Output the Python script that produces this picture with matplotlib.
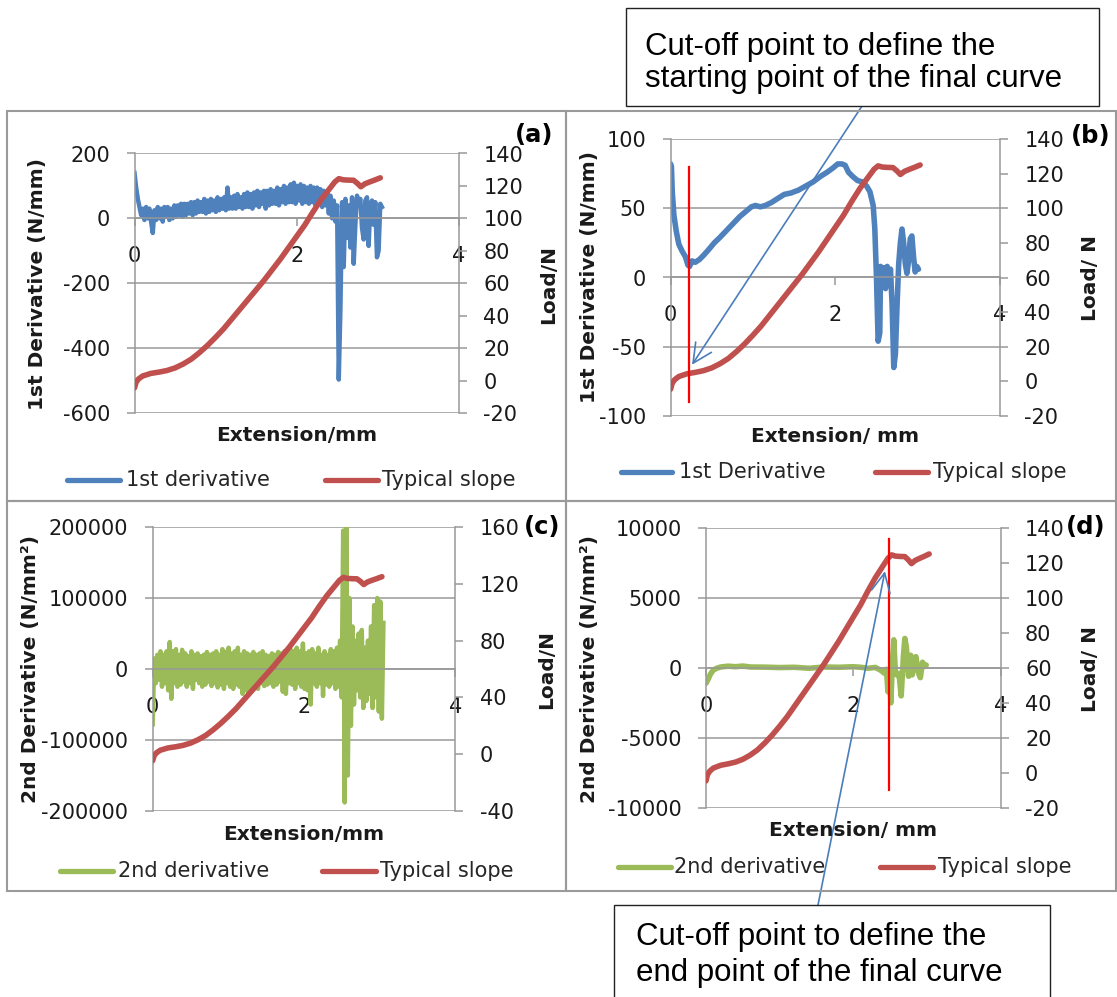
import numpy as np
import matplotlib
matplotlib.use("Agg")
import matplotlib.pyplot as plt
from matplotlib.lines import Line2D
from matplotlib.patches import Rectangle
from matplotlib.ticker import FuncFormatter

W, H = 1117, 997
plt.rcParams["font.family"] = ["DejaVu Sans"]
plt.rcParams["axes.unicode_minus"] = False

BLUE = "#4F81BD"
RED = "#C0504D"
GREEN = "#9BBB59"
GRID = "#989898"
ARROW = "#4A7EBB"
TXT = "#1a1a1a"

# ---------------- data ----------------
# typical load-extension curve (same specimen in every panel)
load_ext = [0.00, 0.02, 0.05, 0.10, 0.20, 0.30, 0.40, 0.50, 0.60, 0.70, 0.80, 0.90,
            1.00, 1.10, 1.20, 1.30, 1.40, 1.50, 1.60, 1.70, 1.80, 1.90, 2.00, 2.10,
            2.20, 2.30, 2.40, 2.47, 2.52, 2.57, 2.63, 2.70, 2.75, 2.79, 2.84, 2.90,
            2.96, 3.03]
load_n = [-4.5, -1.0, 1.0, 2.8, 4.4, 5.2, 6.2, 7.8, 10.2, 13.2, 17.2, 21.7,
          26.7, 32.0, 38.0, 44.0, 50.0, 56.0, 62.0, 68.5, 75.0, 82.0, 89.0, 96.0,
          104.0, 111.5, 118.0, 122.5, 124.5, 123.8, 123.6, 123.5, 121.5, 119.5, 121.3, 122.5,
          123.6, 125.0]

# (a) 1st derivative, sampled evenly over 0 - 3.05 mm
d1a_span = (0.0, 3.05)
d1a_vals = [140, 95, 60, 35, 10, 30, -5, 35, 0, 30,
            -10, -45, 25, -5, 35, 0, 30, -10, 35, 5,
            35, -5, 30, 0, 40, 5, 40, 10, 45, 5,
            45, 10, 45, 15, 50, 10, 50, 15, 55, 20,
            50, 20, 60, 15, 55, 20, 60, 25, 55, 20,
            65, 25, 60, 30, 65, 25, 95, 30, 65, 30,
            70, 30, 75, 35, 65, 30, 75, 35, 80, 35,
            75, 30, 80, 40, 85, 35, 80, 45, 85, 30,
            85, 40, 90, 45, 85, 45, 95, 40, 90, 50,
            100, 45, 95, 50, 105, 50, 110, 45, 100, 55,
            105, 45, 100, 50, 95, 45, 100, 50, 95, 40,
            95, 45, 90, 35, 85, 40, 80, 15, 70, 0,
            55, -10, 40, -497, -280, 50, -150, 60, -60, 40,
            -90, 65, -140, -20, 70, 45, 60, -30, -65, 55,
            65, -85, 40, 55, -20, 50, -120, -100, 45, 35]

# (b) 1st derivative of the smoothed curve
d1b_ext = [0.00, 0.01, 0.02, 0.04, 0.07, 0.10, 0.14, 0.18, 0.21, 0.23,
           0.26, 0.30, 0.35, 0.40, 0.46, 0.53, 0.60, 0.68, 0.76, 0.84,
           0.92, 0.98, 1.03, 1.09, 1.15, 1.22, 1.30, 1.38, 1.46, 1.55,
           1.64, 1.73, 1.82, 1.90, 1.97, 2.03, 2.08, 2.12, 2.16, 2.21,
           2.27, 2.33, 2.38, 2.42, 2.46, 2.48, 2.50, 2.52, 2.54, 2.55,
           2.57, 2.59, 2.61, 2.63, 2.65, 2.67, 2.69, 2.71, 2.73, 2.75,
           2.77, 2.79, 2.81, 2.83, 2.85, 2.87, 2.89, 2.91, 2.93, 2.95,
           2.97, 2.99, 3.01]
d1b_val = [82, 80, 62, 45, 33, 24, 19, 15, 9, 8,
           12, 11, 13, 16, 20, 25, 29, 34, 39, 44,
           48, 51, 52, 51, 52, 54, 57, 60, 61, 63,
           66, 69, 73, 76, 79, 82, 82, 81, 76, 73,
           70, 69, 66, 62, 52, 35, 0, -46, -40, 8,
           -5, 7, -8, 8, -5, 6, -20, -65, -55, -20,
           10, 25, 35, 25, 10, 3, 12, 28, 30, 15,
           4, 8, 6]

# (c) 2nd derivative, sampled evenly over 0 - 3.05 mm
d2c_span = (0.0, 3.05)
d2c_vals = [-78000, 15000, -20000, 20000, -15000, 25000, -25000, 20000, -20000, 25000,
            -30000, 38000, -42000, 25000, -20000, 28000, -25000, 20000, -22000, 27000,
            -18000, 22000, -25000, 18000, -20000, 25000, -28000, 20000, -15000, 22000,
            -20000, 18000, -25000, 20000, -22000, 24000, -18000, 20000, -24000, 22000,
            -20000, 25000, -26000, 20000, -22000, 28000, -28000, 24000, -20000, 30000,
            -25000, 22000, -28000, 25000, -22000, 30000, -25000, 20000, -35000, 25000,
            -30000, 22000, -35000, 20000, -25000, 24000, -22000, 20000, -28000, 22000,
            -20000, 25000, -24000, 20000, -22000, 18000, -20000, 22000, -25000, 20000,
            -22000, 24000, -18000, 22000, -32000, 25000, -35000, 22000, -20000, 28000,
            -22000, 25000, -28000, 30000, -20000, 25000, -25000, 36000, -28000, 22000,
            -30000, 25000, -50000, 28000, -20000, 22000, -25000, 30000, -20000, 20000,
            -38000, 25000, -22000, 20000, -25000, 28000, -20000, 25000, -28000, 30000,
            -25000, 40000, -40000, 195000, -188000, 200000, -150000, 100000, -80000, 60000,
            -50000, 40000, -30000, 50000, -40000, 55000, -55000, 30000, -45000, 40000,
            -35000, 60000, -55000, 90000, -40000, 100000, -60000, 95000, -70000, 65000]

# (d) 2nd derivative of the smoothed curve
d2d_ext = [0.00, 0.03, 0.06, 0.10, 0.15, 0.20, 0.30, 0.40, 0.50, 0.60,
           0.80, 1.00, 1.20, 1.40, 1.60, 1.80, 2.00, 2.10, 2.20, 2.30,
           2.38, 2.42, 2.45, 2.47, 2.49, 2.51, 2.53, 2.55, 2.57, 2.59,
           2.62, 2.65, 2.68, 2.70, 2.72, 2.75, 2.78, 2.80, 2.82, 2.85,
           2.88, 2.91, 2.94, 2.97, 2.99]
d2d_val = [-1100, -800, -450, -150, -20, 60, 120, 80, 130, 60,
           50, 20, 40, -30, 60, 40, 80, 40, -30, 30,
           -200, -380, -100, -1700, -300, -2500, 300, 2000, -200, -500,
           -400, -2000, 800, 2100, 1500, -600, 900, -500, 400, 800,
           -300, -700, 400, 100, 200]

# cut-off markers
cut_start_ext = 0.22
cut_start_span = (-90, 80)
cut_end_ext = 2.485
cut_end_span = (-8700, 9200)

# ---------------- layout helpers ----------------
fig = plt.figure(figsize=(W / 100, H / 100), dpi=100)


def fxy(x, y):
    return x / W, 1 - y / H


def px_rect(l, t, r, b):
    return [l / W, 1 - b / H, (r - l) / W, (b - t) / H]


int_fmt = FuncFormatter(lambda v, p: f"{int(round(v))}")
TICK_FS = 15
LEN = 6.1


def make_panel(rect, prim_lim, prim_step, sec_lim, sec_step):
    ax = fig.add_axes(px_rect(*rect))
    ax.set_facecolor("none")
    ax.set_xlim(0, 4)
    ax.set_ylim(*prim_lim)
    ax.set_xticks([0, 2, 4])
    ax.set_yticks(np.arange(prim_lim[0], prim_lim[1] + prim_step / 2, prim_step))
    ax.yaxis.set_major_formatter(int_fmt)
    ax.xaxis.set_major_formatter(int_fmt)
    for s in ("top", "right"):
        ax.spines[s].set_visible(False)
    ax.spines["bottom"].set_position(("data", 0))
    for s in ("left", "bottom"):
        ax.spines[s].set_color(GRID)
        ax.spines[s].set_linewidth(1.1)
    ax.grid(axis="y", color=GRID, lw=1.1)
    ax.set_axisbelow(True)
    ax.tick_params(axis="y", direction="out", length=LEN, width=1.1, color=GRID,
                   pad=11.5, labelsize=TICK_FS, labelcolor=TXT)
    ax.tick_params(axis="x", direction="out", length=LEN, width=1.1, color=GRID,
                   pad=14, labelsize=TICK_FS, labelcolor=TXT)
    ax2 = ax.twinx()
    ax2.set_ylim(*sec_lim)
    ax2.set_yticks(np.arange(sec_lim[0], sec_lim[1] + sec_step / 2, sec_step))
    ax2.yaxis.set_major_formatter(int_fmt)
    for s in ("top", "left", "bottom"):
        ax2.spines[s].set_visible(False)
    ax2.spines["right"].set_color(GRID)
    ax2.spines["right"].set_linewidth(1.1)
    ax2.tick_params(axis="y", direction="out", length=LEN, width=1.1, color=GRID,
                    pad=11.5, labelsize=TICK_FS, labelcolor=TXT)
    return ax, ax2


def labels(ylab, ylab_xy, rlab, rlab_xy, xlab, xlab_xy, letter, letter_xy):
    fig.text(*fxy(*ylab_xy), ylab, rotation=90, ha="center", va="center",
             fontsize=14.5, fontweight="bold", color=TXT)
    fig.text(*fxy(*rlab_xy), rlab, rotation=90, ha="center", va="center",
             fontsize=14.5, fontweight="bold", color=TXT)
    fig.text(*fxy(*xlab_xy), xlab, ha="center", va="center",
             fontsize=14.5, fontweight="bold", color=TXT)
    fig.text(*fxy(*letter_xy), letter, ha="center", va="center",
             fontsize=17.5, fontweight="bold", color="black")


def legend_item(x0, x1, y, color, text, tx):
    fig.add_artist(Line2D([x0 / W, x1 / W], [1 - y / H] * 2, color=color, lw=3.8,
                          solid_capstyle="round", transform=fig.transFigure))
    fig.text(*fxy(tx, y), text, ha="left", va="center", fontsize=15, color="#262626")


# ---------------- panel frames ----------------
for (l, t, r, b) in [(7, 111, 566, 501), (566, 111, 1116, 501),
                     (7, 501, 566, 891), (566, 501, 1116, 891)]:
    fig.add_artist(Rectangle(fxy(l, b), (r - l) / W, (b - t) / H, transform=fig.transFigure,
                             fill=False, ec="#9a9a9a", lw=1.5, zorder=0.5))

LW = 4.0
DENSE_LW = 3.2

# (a)
axa, axa2 = make_panel((134.5, 153.5, 459, 413), (-600, 200), 200, (-20, 140), 20)
axa.plot(np.linspace(*d1a_span, len(d1a_vals)), d1a_vals, color=BLUE, lw=DENSE_LW)
axa2.plot(load_ext, load_n, color=RED, lw=LW, solid_capstyle="round", solid_joinstyle="round")
labels("1st Derivative (N/mm)", (38, 284), "Load/N", (549, 284),
       "Extension/mm", (297, 435), "(a)", (534, 135))
legend_item(67, 120, 480, BLUE, "1st derivative", 125.5)
legend_item(325, 378, 480, RED, "Typical slope", 382)

# (b)
axb, axb2 = make_panel((670.6, 139, 1000, 416), (-100, 100), 50, (-20, 140), 20)
axb.plot(d1b_ext, d1b_val, color=BLUE, lw=LW, solid_joinstyle="round", solid_capstyle="round")
axb2.plot(load_ext, load_n, color=RED, lw=LW, solid_capstyle="round", solid_joinstyle="round")
axb2.plot([cut_start_ext, cut_start_ext], cut_start_span, color="#FF0000", lw=1.6,
          transform=axb.transData, zorder=5)
labels("1st Derivative (N/mm)", (590, 277), "Load/ N", (1090, 278),
       "Extension/ mm", (835, 437), "(b)", (1091, 136))
legend_item(621, 672, 472, BLUE, "1st Derivative", 679)
legend_item(875, 928, 472, RED, "Typical slope", 933)

# (c)
axc, axc2 = make_panel((152.7, 527, 455.3, 811), (-200000, 200000), 100000, (-40, 160), 40)
axc.plot(np.linspace(*d2c_span, len(d2c_vals)), d2c_vals, color=GREEN, lw=DENSE_LW)
axc2.plot(load_ext, load_n, color=RED, lw=LW, solid_capstyle="round", solid_joinstyle="round")
labels("2nd Derivative (N/mm\u00b2)", (31, 669), "Load/N", (547, 669),
       "Extension/mm", (304, 834), "(c)", (542, 527))
legend_item(60, 113, 871, GREEN, "2nd derivative", 118)
legend_item(322, 376, 871, RED, "Typical slope", 380)

# (d)
axd, axd2 = make_panel((706, 527.7, 1000.6, 808), (-10000, 10000), 5000, (-20, 140), 20)
axd.plot(d2d_ext, d2d_val, color=GREEN, lw=LW, solid_joinstyle="round", solid_capstyle="round")
axd2.plot(load_ext, load_n, color=RED, lw=LW, solid_capstyle="round", solid_joinstyle="round")
axd2.plot([cut_end_ext, cut_end_ext], cut_end_span, color="#FF0000", lw=1.6,
          transform=axd.transData, zorder=5)
labels("2nd Derivative (N/mm\u00b2)", (590, 669), "Load/ N", (1090, 669),
       "Extension/ mm", (853, 830), "(d)", (1086, 527))
legend_item(618, 671, 867, GREEN, "2nd derivative", 674)
legend_item(880, 933, 867, RED, "Typical slope", 938)

# ---------------- call-out boxes ----------------
BOX_FS = 22.5
fig.add_artist(Rectangle(fxy(626, 106), (1099 - 626) / W, (106 - 8) / H,
                         transform=fig.transFigure, fc="white", ec="#222222", lw=1.0, zorder=6))
fig.text(*fxy(645, 55), "Cut-off point to define the", family="Liberation Sans",
         fontsize=BOX_FS, ha="left", va="baseline", zorder=7)
fig.text(*fxy(645, 87.5), "starting point of the final curve", family="Liberation Sans",
         fontsize=BOX_FS, ha="left", va="baseline", zorder=7)

fig.add_artist(Rectangle(fxy(614, 1010), (1050 - 614) / W, (1010 - 905) / H,
                         transform=fig.transFigure, fc="white", ec="#222222", lw=1.0, zorder=6))
fig.text(*fxy(636, 945), "Cut-off point to define the", family="Liberation Sans",
         fontsize=BOX_FS, ha="left", va="baseline", zorder=7)
fig.text(*fxy(636, 980.5), "end point of the final curve", family="Liberation Sans",
         fontsize=BOX_FS, ha="left", va="baseline", zorder=7)

arrow_props = dict(arrowstyle="->,head_length=0.55,head_width=0.27", color=ARROW, lw=1.2,
                   shrinkA=0, shrinkB=0, mutation_scale=25)
axb2.annotate("", xy=(0.26, -63), xycoords=axb.transData,
              xytext=fxy(862, 106), textcoords="figure fraction",
              arrowprops=arrow_props, annotation_clip=False, zorder=8)
axd2.annotate("", xy=(2.43, 6900), xycoords=axd.transData,
              xytext=fxy(818, 905), textcoords="figure fraction",
              arrowprops=arrow_props, annotation_clip=False, zorder=8)

fig.savefig("out.png", dpi=100, facecolor="white")
